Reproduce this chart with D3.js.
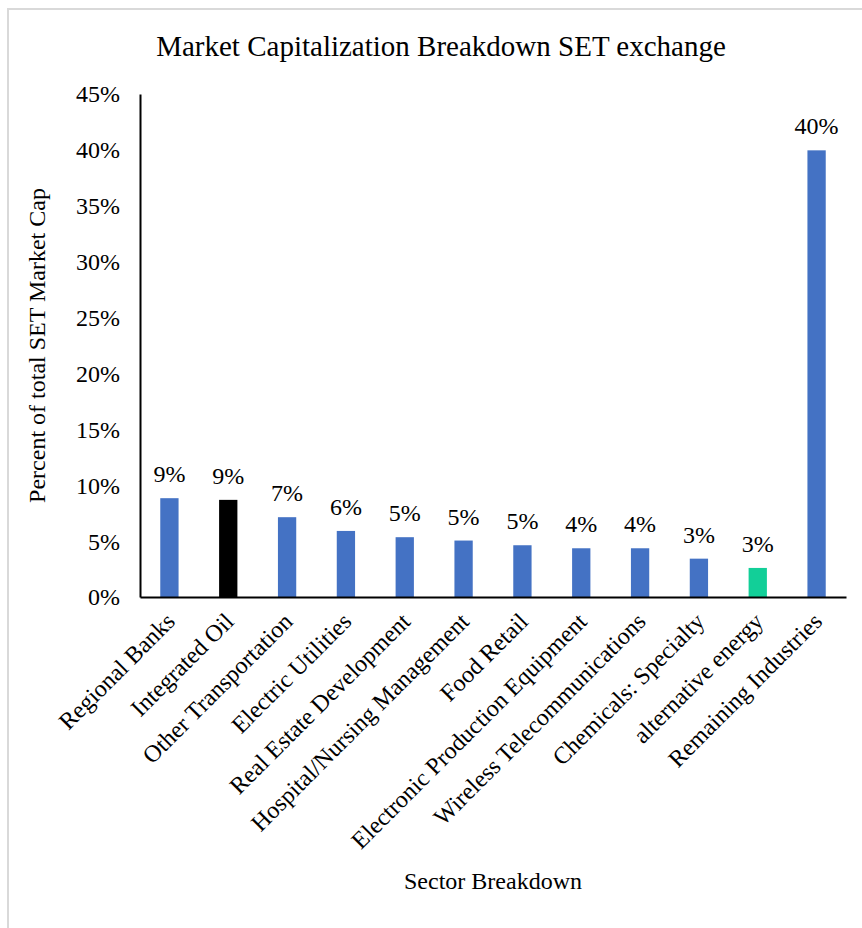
<!DOCTYPE html>
<html>
<head>
<meta charset="utf-8">
<script src="https://cdn.jsdelivr.net/npm/d3@7/dist/d3.min.js"></script>
<style>
  html, body { margin: 0; padding: 0; background: #ffffff; }
  svg { display: block; }
  svg text { font-family: "Liberation Serif", "Times New Roman", serif; }
</style>
</head>
<body>
<svg id="chart" width="862" height="928"></svg>
<script>
const categories = [
  "Regional Banks", "Integrated Oil", "Other Transportation", "Electric Utilities",
  "Real Estate Development", "Hospital/Nursing Management", "Food Retail",
  "Electronic Production Equipment", "Wireless Telecommunications",
  "Chemicals: Specialty", "alternative energy", "Remaining Industries"
];
const values = [0.0884, 0.0869, 0.0714, 0.0591, 0.0535, 0.0505, 0.0463, 0.0436, 0.0436, 0.0343, 0.0260, 0.3996];
const barColors = ["#4472C4", "#000000", "#4472C4", "#4472C4", "#4472C4", "#4472C4", "#4472C4", "#4472C4", "#4472C4", "#4472C4", "#12CF98", "#4472C4"];
const yTicks = [0, 0.05, 0.10, 0.15, 0.20, 0.25, 0.30, 0.35, 0.40, 0.45];
const title = "Market Capitalization Breakdown SET exchange";
const yTitle = "Percent of total SET Market Cap";
const xTitle = "Sector Breakdown";

const FONT = "Liberation Serif, Times New Roman, serif";
const svg = d3.select("#chart");

// chart border
svg.append("rect")
  .attr("x", 8).attr("y", 9).attr("width", 900).attr("height", 960)
  .attr("fill", "none").attr("stroke", "#d9d9d9").attr("stroke-width", 2);

const x = d3.scaleBand().domain(categories).range([140, 846])
  .paddingInner(0.689).paddingOuter(0.3445);
const y = d3.scaleLinear().domain([0, 0.45]).range([597, 94]);

// title
svg.append("text").attr("x", 441).attr("y", 56).attr("text-anchor", "middle")
  .attr("font-family", FONT).attr("font-size", 29).attr("fill", "#000").text(title);

// bars
svg.append("g").selectAll("rect").data(values).join("rect")
  .attr("x", (d, i) => x(categories[i]))
  .attr("y", d => y(d))
  .attr("width", x.bandwidth())
  .attr("height", d => y(0) - y(d))
  .attr("fill", (d, i) => barColors[i]);

// data labels
const fmt = d3.format(".0%");
svg.append("g").selectAll("text").data(values).join("text")
  .attr("x", (d, i) => x(categories[i]) + x.bandwidth() / 2)
  .attr("y", d => y(d) - 16)
  .attr("text-anchor", "middle").attr("font-family", FONT).attr("font-size", 24).attr("fill", "#000")
  .text(d => fmt(d));

// y axis
const yAxis = d3.axisLeft(y).tickValues(yTicks).tickFormat(d3.format(".0%")).tickSize(0).tickPadding(20);
const yg = svg.append("g").attr("transform", "translate(140,0)").call(yAxis)
  .attr("font-family", FONT).attr("font-size", 24);
yg.select(".domain").attr("stroke", "#000").attr("stroke-width", 2);
yg.selectAll("text").attr("font-family", FONT).attr("font-size", 24).attr("fill", "#000").attr("dy", "0.33em");

// x axis
const xAxis = d3.axisBottom(x).tickSize(0).tickFormat("");
const xg = svg.append("g").attr("transform", "translate(0,597)").call(xAxis);
xg.select(".domain").attr("stroke", "#000").attr("stroke-width", 2);

// category labels
svg.append("g").selectAll("text").data(categories).join("text")
  .attr("transform", d => `translate(${x(d) + x.bandwidth() / 2 + 7},623) rotate(-45)`)
  .attr("text-anchor", "end").attr("font-family", FONT).attr("font-size", 24).attr("fill", "#000")
  .text(d => d);

// axis titles
svg.append("text").attr("transform", "translate(45,345.5) rotate(-90)")
  .attr("text-anchor", "middle").attr("font-family", FONT).attr("font-size", 24).attr("fill", "#000").text(yTitle);
svg.append("text").attr("x", 493).attr("y", 889).attr("text-anchor", "middle")
  .attr("font-family", FONT).attr("font-size", 24).attr("fill", "#000").text(xTitle);
</script>
</body>
</html>
